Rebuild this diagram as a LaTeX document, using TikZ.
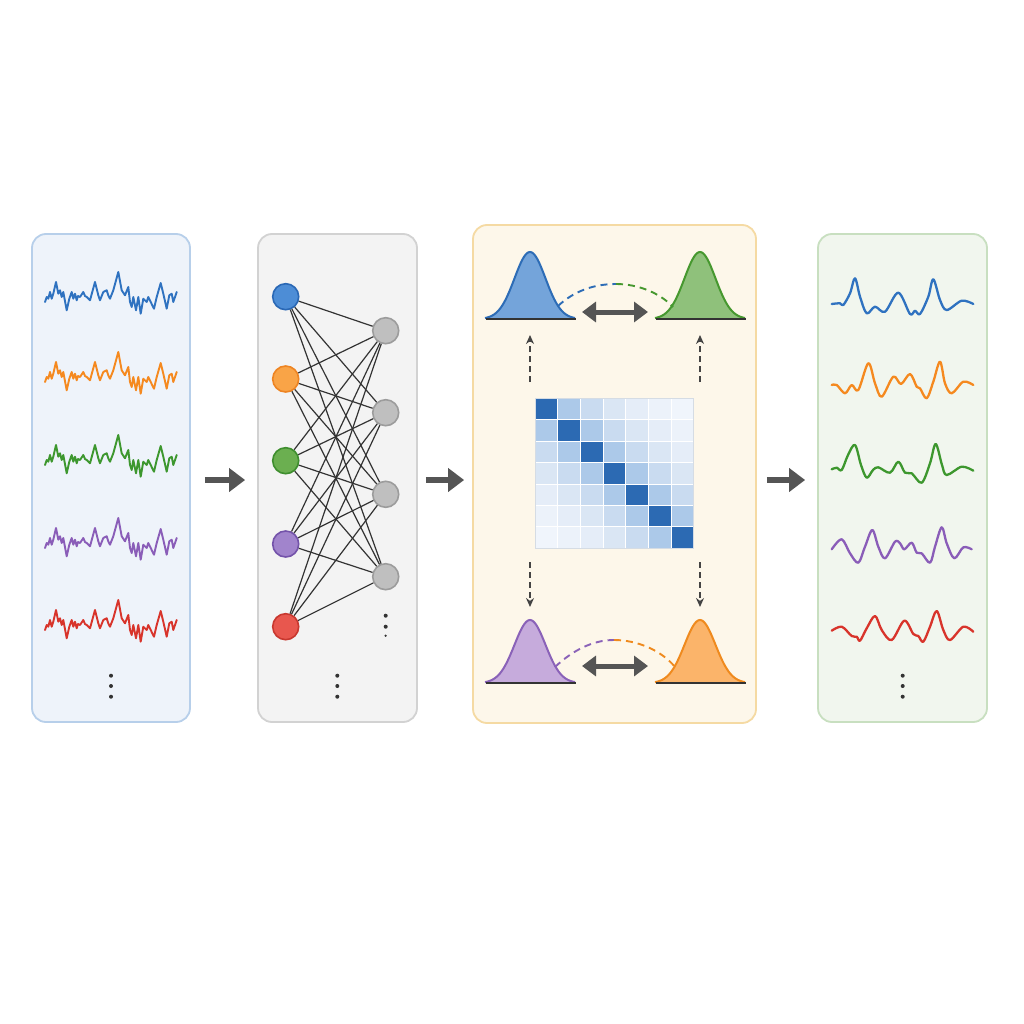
\documentclass[tikz,border=0pt]{standalone}
\usetikzlibrary{arrows.meta}
\definecolor{sblue}{HTML}{2F72C0}
\definecolor{sorange}{HTML}{F5891F}
\definecolor{sgreen}{HTML}{3D972E}
\definecolor{spurple}{HTML}{8A5DB8}
\definecolor{sred}{HTML}{D8342B}
\definecolor{p1fill}{HTML}{EEF3FA}\definecolor{p1draw}{HTML}{B7CFEA}
\definecolor{p2fill}{HTML}{F3F3F3}\definecolor{p2draw}{HTML}{D2D2D2}
\definecolor{p3fill}{HTML}{FDF7EA}\definecolor{p3draw}{HTML}{F5DAA3}
\definecolor{p4fill}{HTML}{F1F6EE}\definecolor{p4draw}{HTML}{C8DFC0}
\definecolor{nblue}{HTML}{4D8DD6}\definecolor{nbluedk}{HTML}{2A68B5}
\definecolor{norange}{HTML}{F9A447}\definecolor{norangedk}{HTML}{EE8422}
\definecolor{ngreen}{HTML}{6BAF50}\definecolor{ngreendk}{HTML}{3E8E2E}
\definecolor{npurple}{HTML}{A184CC}\definecolor{npurpledk}{HTML}{7453AA}
\definecolor{nred}{HTML}{E8574E}\definecolor{nreddk}{HTML}{C8382F}
\definecolor{ngray}{HTML}{BFBFBF}\definecolor{ngraydk}{HTML}{9C9C9C}
\definecolor{gbluef}{HTML}{74A4DA}\definecolor{gbluel}{HTML}{2D6CB6}
\definecolor{ggreenf}{HTML}{8FC17B}\definecolor{ggreenl}{HTML}{46982F}
\definecolor{gpurplef}{HTML}{C6ABDC}\definecolor{gpurplel}{HTML}{8A62B8}
\definecolor{gorangef}{HTML}{FBB46A}\definecolor{gorangel}{HTML}{EF8A1E}
\definecolor{arrgray}{HTML}{555555}\definecolor{arrgraydk}{HTML}{444444}
\definecolor{mat0}{HTML}{2C6AB3}
\definecolor{mat1}{HTML}{ACC9E9}
\definecolor{mat2}{HTML}{C9DBF0}
\definecolor{mat3}{HTML}{DAE6F4}
\definecolor{mat4}{HTML}{E5EDF8}
\definecolor{mat5}{HTML}{ECF2FA}
\definecolor{mat6}{HTML}{F0F5FC}
\definecolor{matborder}{HTML}{D5DCE4}
\definecolor{dotc}{HTML}{333333}
\newcommand\gaussbump[5]{%
  \fill[#4] plot[domain=-45:45,samples=61] ({#1+\x},{#2-#3*exp(-((\x/15.5)^2)/2)}) -- cycle;
  \draw[#5, line width=2pt] plot[domain=-45:45,samples=61] ({#1+\x},{#2-#3*exp(-((\x/15.5)^2)/2)});
  \draw[line width=2pt, color=dotc] (#1-44,#2) -- (#1+46,#2);}
\begin{document}
\begin{tikzpicture}[x=1pt,y=-1pt,
  panel/.style={rounded corners=14pt, line width=1.8pt, inner sep=0pt},
  neuron/.style={circle, minimum size=26pt, inner sep=0pt, line width=1.6pt},
  nnedge/.style={line width=1.2pt, color=dotc},
  noisy/.style={line width=1.9pt, line join=round, line cap=round},
  smoothsig/.style={line width=2.3pt, line join=round, line cap=round},
  bigarrow/.style={line width=6pt, color=arrgray, -{Triangle[length=16pt,width=23pt]}},
  dblarrow/.style={line width=5pt, color=arrgray, {Triangle[length=14pt,width=20pt]}-{Triangle[length=14pt,width=20pt]}},
  dasharrow/.style={line width=1.6pt, color=arrgraydk, dash pattern=on 6pt off 4pt, -{Stealth[length=9pt,width=8pt]}},
  arcdash/.style={line width=1.9pt, dash pattern=on 7pt off 5pt},
  dotmark/.style={circle, fill=dotc, inner sep=0pt, minimum size=4pt}]
\fill[white] (0,0) rectangle (1024,1024);
\useasboundingbox (0,0) rectangle (1024,1024);

% panels
\node[panel, fill=p1fill, draw=p1draw, minimum width=158pt, minimum height=488pt] (p1) at (111,478) {};
\node[panel, fill=p2fill, draw=p2draw, minimum width=159pt, minimum height=488pt] (p2) at (337.5,478) {};
\node[panel, fill=p3fill, draw=p3draw, minimum width=283pt, minimum height=498pt] (p3) at (614.5,474) {};
\node[panel, fill=p4fill, draw=p4draw, minimum width=169pt, minimum height=488pt] (p4) at (902.5,478) {};

% arrows between panels
\coordinate (a1s) at ([xshift=14pt,yshift=-2pt]p1.east);
\coordinate (a1e) at ([xshift=-12pt,yshift=-2pt]p2.west);
\coordinate (a2s) at ([xshift=8pt,yshift=-2pt]p2.east);
\coordinate (a2e) at ([xshift=-8pt,yshift=-2pt]p2.east -| p3.west);
\coordinate (a3s) at ([xshift=10pt,yshift=-2pt]p4.west -| p3.east);
\coordinate (a3e) at ([xshift=-12pt,yshift=-2pt]p4.west);
\draw[bigarrow] (a1s) -- (a1e);
\draw[bigarrow] (a2s) -- (a2e);
\draw[bigarrow] (a3s) -- (a3e);

% noisy signals
\foreach \yy/\col in {297/sblue,377/sorange,460/sgreen,543/spurple,625/sred}{
  \draw[noisy, \col, shift={(45,\yy)}] plot[sharp plot] coordinates {
  (0,5) (1.7,0) (3.3,1.7) (5,-5) (6.7,1.7) (8.3,-3.3) (11,-15) (13.3,-3.3) (15,-6.7) (16.7,0) (18.3,-5)
  (21.7,13.3) (24.3,1.7) (26.7,-5) (28.3,1.7) (30,-3.3) (31.7,3.3) (33,-1) (35,0) (38.3,-5) (40,-1) (41.7,0) (45,3.3)
  (50,-15) (53.3,-1.7) (55,3.3) (58.3,-5) (61.7,-6.7) (63.3,-1.7) (65,1.7) (68.3,-6.7) (73.3,-25)
  (76.7,-6.7) (80,-1.7) (83.3,-10) (85,5) (86.7,10) (88.3,0) (91,13.3) (93.3,0) (95.7,16.7) (98.3,1.7)
  (101.7,5) (103.3,0) (105.7,5) (109,11.7) (111.7,0) (115.7,-14) (118.3,-3.3) (121.7,11.7) (124.3,-1.7)
  (126.7,-3.3) (128.3,5) (131.7,-5)};
}
\node[dotmark] (d1a) at (111,675.7) {};
\node[dotmark] (d1b) at (111,686) {};
\node[dotmark] (d1c) at (111,696.7) {};

% neural network
\node[neuron, fill=nblue, draw=nbluedk] (i1) at (285.7,296.7) {};
\node[neuron, fill=norange, draw=norangedk] (i2) at (285.7,379) {};
\node[neuron, fill=ngreen, draw=ngreendk] (i3) at (285.7,460.7) {};
\node[neuron, fill=npurple, draw=npurpledk] (i4) at (285.7,544) {};
\node[neuron, fill=nred, draw=nreddk] (i5) at (285.7,626.7) {};
\foreach \k/\yy in {1/330.7,2/412.7,3/494.3,4/576.7}{
  \node[neuron, fill=ngray, draw=ngraydk] (o\k) at (385.7,\yy) {};
}
\foreach \i in {1,...,5}{\foreach \o in {1,...,4}{\draw[nnedge] (i\i) -- (o\o);}}
\node[dotmark] (d2a) at (385.7,615.7) {};
\node[dotmark] (d2b) at (385.7,626.7) {};
\node[dotmark, minimum size=2.5pt] (d2c) at (385.7,635.7) {};
\node[dotmark] (d3a) at (337.3,675.7) {};
\node[dotmark] (d3b) at (337.3,686) {};
\node[dotmark] (d3c) at (337.3,696.7) {};

% correlation matrix
\foreach \i in {0,...,6}{\foreach \j in {0,...,6}{
  \pgfmathtruncatemacro\dd{abs(\i-\j)}
  \filldraw[fill=mat\dd, draw=white, line width=0.9pt] ({535+\j*22.7},{398.3+\i*21.43}) rectangle ++(22.7,21.43);
}}
\node[draw=matborder, line width=1pt, minimum width=158.9pt, minimum height=150pt, inner sep=0pt] (mat) at (614.45,473.3) {};

% gaussians
\gaussbump{530}{319}{67}{gbluef}{gbluel}
\gaussbump{700}{319}{67}{ggreenf}{ggreenl}
\gaussbump{530}{683}{63}{gpurplef}{gpurplel}
\gaussbump{700}{683}{63}{gorangef}{gorangel}
\coordinate (gTL) at (530,335); \coordinate (gTR) at (700,335);
\coordinate (gBL) at (530,607); \coordinate (gBR) at (700,607);
\coordinate (mTL) at (530,382); \coordinate (mTR) at (700,382);
\coordinate (mBL) at (530,562); \coordinate (mBR) at (700,562);
\draw[dasharrow] (mTL) -- (gTL);
\draw[dasharrow] (mTR) -- (gTR);
\draw[dasharrow] (mBL) -- (gBL);
\draw[dasharrow] (mBR) -- (gBR);

% dashed arcs
\coordinate (aT1) at (558,306); \coordinate (aTm) at (616,284); \coordinate (aT2) at (673,307);
\draw[arcdash, gbluel] (aT1) .. controls (574,291) and (594,284) .. (aTm);
\draw[arcdash, ggreenl] (aTm) .. controls (638,284) and (660,293) .. (aT2);
\coordinate (aB1) at (555,667); \coordinate (aBm) at (614,640); \coordinate (aB2) at (675,667);
\draw[arcdash, gpurplel] (aB1) .. controls (572,651) and (592,640) .. (aBm);
\draw[arcdash, gorangel] (aBm) .. controls (638,640) and (662,651) .. (aB2);

% double arrows
\coordinate (dT1) at (582,312); \coordinate (dT2) at (648,312);
\coordinate (dB1) at (582,666); \coordinate (dB2) at (648,666);
\draw[dblarrow] (dT1) -- (dT2);
\draw[dblarrow] (dB1) -- (dB2);

% smooth signals
\draw[smoothsig, sblue] plot[smooth, tension=0.55] coordinates {(831.7,304) (840,303.3) (843.3,305) (850,293.3) (855,278.3) (860,296.7) (866.7,313.3) (875,306.7) (885,311.7) (898.3,292.7) (910,314) (915,310.7) (920,314) (928.3,296.7) (933.3,279.3) (940,300) (946.7,310) (961.7,300.7) (973.3,304)};
\draw[smoothsig, sorange] plot[smooth, tension=0.55] coordinates {(831.7,385) (836.7,385) (845,393.3) (851.7,385) (858.3,390) (868.3,363.3) (875,383.3) (881.7,396.7) (893.3,376.7) (901,384) (910,374) (916.7,386.7) (920,388.3) (926.7,398.3) (933.3,381.7) (940,361.7) (945,383.3) (951.7,393.3) (963.3,381.7) (973.3,385)};
\draw[smoothsig, sgreen] plot[smooth, tension=0.55] coordinates {(831.7,469.3) (836.7,467.7) (841.7,470) (848,455) (855,445) (861,465) (866.7,477.7) (873,470) (878.3,467.3) (890,472.7) (898.3,461.7) (905,472.7) (911.7,473.3) (921.7,482.7) (930,463.3) (935.7,444) (942,465) (946.7,475) (961.7,466.7) (973.3,470.7)};
\draw[smoothsig, spurple] plot[smooth, tension=0.55] coordinates {(831.7,549.3) (841.7,539.3) (850,553.3) (858.3,562.7) (865,546.7) (872.3,530) (878.3,546.7) (885,558.3) (895,541.7) (900,543.3) (904.3,549.3) (911.7,542.7) (916.7,552.7) (921.7,553.3) (930,562.7) (935,546.7) (941.7,527.3) (946.7,543.3) (954.3,558.3) (963.3,547.3) (971.7,549.3)};
\draw[smoothsig, sred] plot[smooth, tension=0.55] coordinates {(831.7,630.7) (841.7,626.7) (851.7,636) (856.7,636.7) (860,640.7) (866.7,628.3) (875,616) (881.7,630) (891.7,640) (904.3,620.7) (913.3,634) (918.3,636) (923.3,641.7) (930,626.7) (936.7,611) (943.3,630) (950,640) (963.3,626.7) (973.3,631.7)};
\node[dotmark] (d4a) at (902.7,675.7) {};
\node[dotmark] (d4b) at (902.7,686) {};
\node[dotmark] (d4c) at (902.7,696.7) {};
\end{tikzpicture}
\end{document}
